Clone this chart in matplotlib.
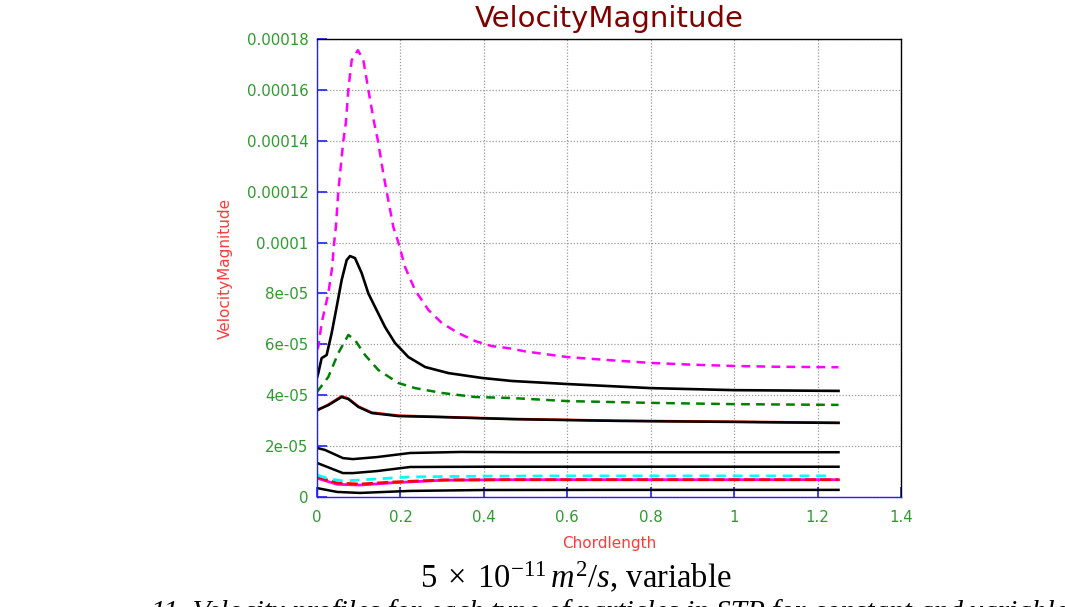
import numpy as np
import matplotlib.pyplot as plt

# --- curvas del perfil de velocidad (x = Chordlength, y = VelocityMagnitude) ---
x_mag = [0.0, 0.003, 0.011, 0.027, 0.036, 0.041, 0.045, 0.051, 0.055, 0.063, 0.069, 0.075,
         0.083, 0.098, 0.111, 0.123, 0.137, 0.146, 0.159, 0.167, 0.183, 0.195, 0.211,
         0.235, 0.267, 0.299, 0.339, 0.379, 0.419, 0.459, 0.5, 0.6, 0.7, 0.8,
         0.9, 1.0, 1.1, 1.25]
y_mag = [5.8e-5, 5.9e-5, 6.84e-5, 8.0e-5, 9.0e-5, 1.0e-4, 1.06e-4, 1.2e-4, 1.27e-4, 1.4e-4,
         1.47e-4, 1.6e-4, 1.717e-4, 1.756e-4, 1.717e-4, 1.6e-4, 1.47e-4, 1.4e-4, 1.27e-4,
         1.2e-4, 1.06e-4, 1.0e-4, 9.04e-5, 8.13e-5, 7.35e-5, 6.84e-5, 6.44e-5,
         6.13e-5, 5.93e-5, 5.85e-5, 5.72e-5, 5.5e-5, 5.38e-5, 5.27e-5, 5.2e-5, 5.15e-5,
         5.12e-5, 5.1e-5]

x_blk1 = [0.0, 0.003, 0.011, 0.023, 0.035, 0.047, 0.059, 0.071, 0.079, 0.091, 0.107,
          0.123, 0.139, 0.163, 0.187, 0.219, 0.259, 0.315, 0.395, 0.467, 0.6, 0.8,
          1.0, 1.25]
y_blk1 = [4.7e-5, 4.87e-5, 5.46e-5, 5.58e-5, 6.44e-5, 7.47e-5, 8.53e-5, 9.31e-5, 9.47e-5,
          9.39e-5, 8.8e-5, 8.0e-5, 7.47e-5, 6.68e-5, 6.05e-5, 5.5e-5, 5.11e-5, 4.87e-5,
          4.68e-5, 4.56e-5, 4.44e-5, 4.28e-5, 4.2e-5, 4.17e-5]

x_grn = [0.0, 0.027, 0.051, 0.075, 0.091, 0.115, 0.147, 0.195, 0.235, 0.299, 0.379, 0.467,
         0.6, 0.8, 1.0, 1.25]
y_grn = [4.13e-5, 4.72e-5, 5.66e-5, 6.37e-5, 6.17e-5, 5.58e-5, 4.99e-5, 4.48e-5, 4.28e-5,
         4.09e-5, 3.93e-5, 3.89e-5, 3.77e-5, 3.7e-5, 3.65e-5, 3.62e-5]

x_blk2 = [0.0, 0.027, 0.059, 0.075, 0.099, 0.131, 0.195, 0.299, 0.467, 0.72, 1.0, 1.25]
y_blk2 = [3.42e-5, 3.61e-5, 3.93e-5, 3.85e-5, 3.54e-5, 3.3e-5, 3.18e-5, 3.14e-5, 3.06e-5,
          2.99e-5, 2.95e-5, 2.91e-5]
y_red2 = [3.40e-5, 3.63e-5, 3.96e-5, 3.87e-5, 3.56e-5, 3.32e-5, 3.2e-5, 3.15e-5, 3.07e-5,
          3.0e-5, 2.96e-5, 2.92e-5]

x_blk3 = [0.0, 0.019, 0.062, 0.086, 0.144, 0.223, 0.343, 0.5, 0.8, 1.25]
y_blk3 = [1.93e-5, 1.85e-5, 1.53e-5, 1.49e-5, 1.57e-5, 1.73e-5, 1.77e-5, 1.76e-5, 1.76e-5, 1.76e-5]

x_blk4 = [0.0, 0.031, 0.062, 0.086, 0.144, 0.223, 0.4, 0.6, 1.0, 1.25]
y_blk4 = [1.34e-5, 1.14e-5, 9.4e-6, 9.4e-6, 1.02e-5, 1.18e-5, 1.19e-5, 1.19e-5, 1.19e-5, 1.19e-5]

x_cyan = [0.0, 0.031, 0.062, 0.144, 0.223, 0.4, 0.6, 1.0, 1.22]
y_cyan = [8.6e-6, 7.1e-6, 6.3e-6, 7.1e-6, 7.9e-6, 8.2e-6, 8.3e-6, 8.3e-6, 8.3e-6]

x_red = [0.0, 0.048, 0.103, 0.182, 0.302, 0.45, 0.7, 1.0, 1.25]
y_red = [7.9e-6, 5.5e-6, 5.1e-6, 5.9e-6, 6.7e-6, 6.8e-6, 6.8e-6, 6.8e-6, 6.8e-6]
y_mag2 = [7.4e-6, 5.0e-6, 4.7e-6, 5.6e-6, 6.6e-6, 6.8e-6, 6.8e-6, 6.8e-6, 6.8e-6]

x_blk5 = [0.0, 0.048, 0.103, 0.223, 0.4, 0.7, 1.0, 1.25]
y_blk5 = [3.5e-6, 2.0e-6, 1.6e-6, 2.4e-6, 2.75e-6, 2.8e-6, 2.8e-6, 2.8e-6]

xticks = [0, 0.2, 0.4, 0.6, 0.8, 1, 1.2, 1.4]
xticklabels = ["0", "0.2", "0.4", "0.6", "0.8", "1", "1.2", "1.4"]
yticks = [0, 2e-5, 4e-5, 6e-5, 8e-5, 1e-4, 1.2e-4, 1.4e-4, 1.6e-4, 1.8e-4]
yticklabels = ["0", "2e-05", "4e-05", "6e-05", "8e-05", "0.0001", "0.00012", "0.00014",
               "0.00016", "0.00018"]

verde = '#2f9a2f'
rojo = '#ff3b3b'
azul = '#2020ff'

plt.rcParams['mathtext.fontset'] = 'custom'
plt.rcParams['mathtext.rm'] = 'Liberation Serif'
plt.rcParams['mathtext.it'] = 'Liberation Serif:italic'

fig = plt.figure(figsize=(10.65, 6.07), dpi=100)
ax = fig.add_axes([0.2977, 0.1812, 0.5484, 0.7545])

# trazos de abajo hacia arriba (las lineas negras tapan a sus gemelas de color)
ax.plot(x_red, y_mag2, color='magenta', lw=2.0)
ax.plot(x_red, y_red, color='red', lw=2.0, dashes=(4, 1.5))
ax.plot(x_cyan, y_cyan, color='cyan', lw=2.0, dashes=(3.5, 2.5))
ax.plot(x_blk5, y_blk5, color='black', lw=1.8)
ax.plot(x_blk4, y_blk4, color='black', lw=1.8)
ax.plot(x_blk3, y_blk3, color='black', lw=1.8)
ax.plot(x_blk2, y_red2, color='red', lw=1.8)
ax.plot(x_blk2, y_blk2, color='black', lw=1.8)
ax.plot(x_grn, y_grn, color='#008000', lw=1.8, dashes=(3.5, 2.5))
ax.plot(x_blk1, y_blk1, color='black', lw=1.9)
ax.plot(x_mag, y_mag, color='magenta', lw=1.8, dashes=(3.5, 2.5))

ax.set_xlim(0, 1.4)
ax.set_ylim(0, 1.8e-4)
ax.set_xticks(xticks)
ax.set_xticklabels(xticklabels)
ax.set_yticks(yticks)
ax.set_yticklabels(yticklabels)
ax.tick_params(direction='in', length=7, width=1.2, color=azul, labelcolor=verde,
               labelsize=10.8)
ax.tick_params(axis='x', pad=9)
ax.tick_params(axis='y', pad=6)
ax.grid(True, color='#9a9a9a', linestyle=(0, (1, 1.5)), linewidth=0.9)

ax.spines['left'].set_color(azul)
ax.spines['bottom'].set_color(azul)
ax.spines['top'].set_color('black')
ax.spines['right'].set_color('black')
for s in ax.spines.values():
    s.set_linewidth(1.0)

ax.set_title("VelocityMagnitude", color='#800000', fontsize=21, pad=9)
ax.set_xlabel("Chordlength", color=rojo, fontsize=11, labelpad=8)
ax.set_ylabel("VelocityMagnitude", color=rojo, fontsize=11, labelpad=10)

# pie de figura en serif
fig.text(0.541, 0.048, r"$5\;\times\;10^{-11}\,m^2/s$, variable", ha='center', va='center',
         fontsize=23.5, family='Liberation Serif')
fig.text(0.142, 0.013, "11. Velocity profiles for each type of particles in STP for constant and variable",
         ha='left', va='top', fontsize=21, family='Liberation Serif', style='italic')

fig.savefig("out.png", dpi=100)
